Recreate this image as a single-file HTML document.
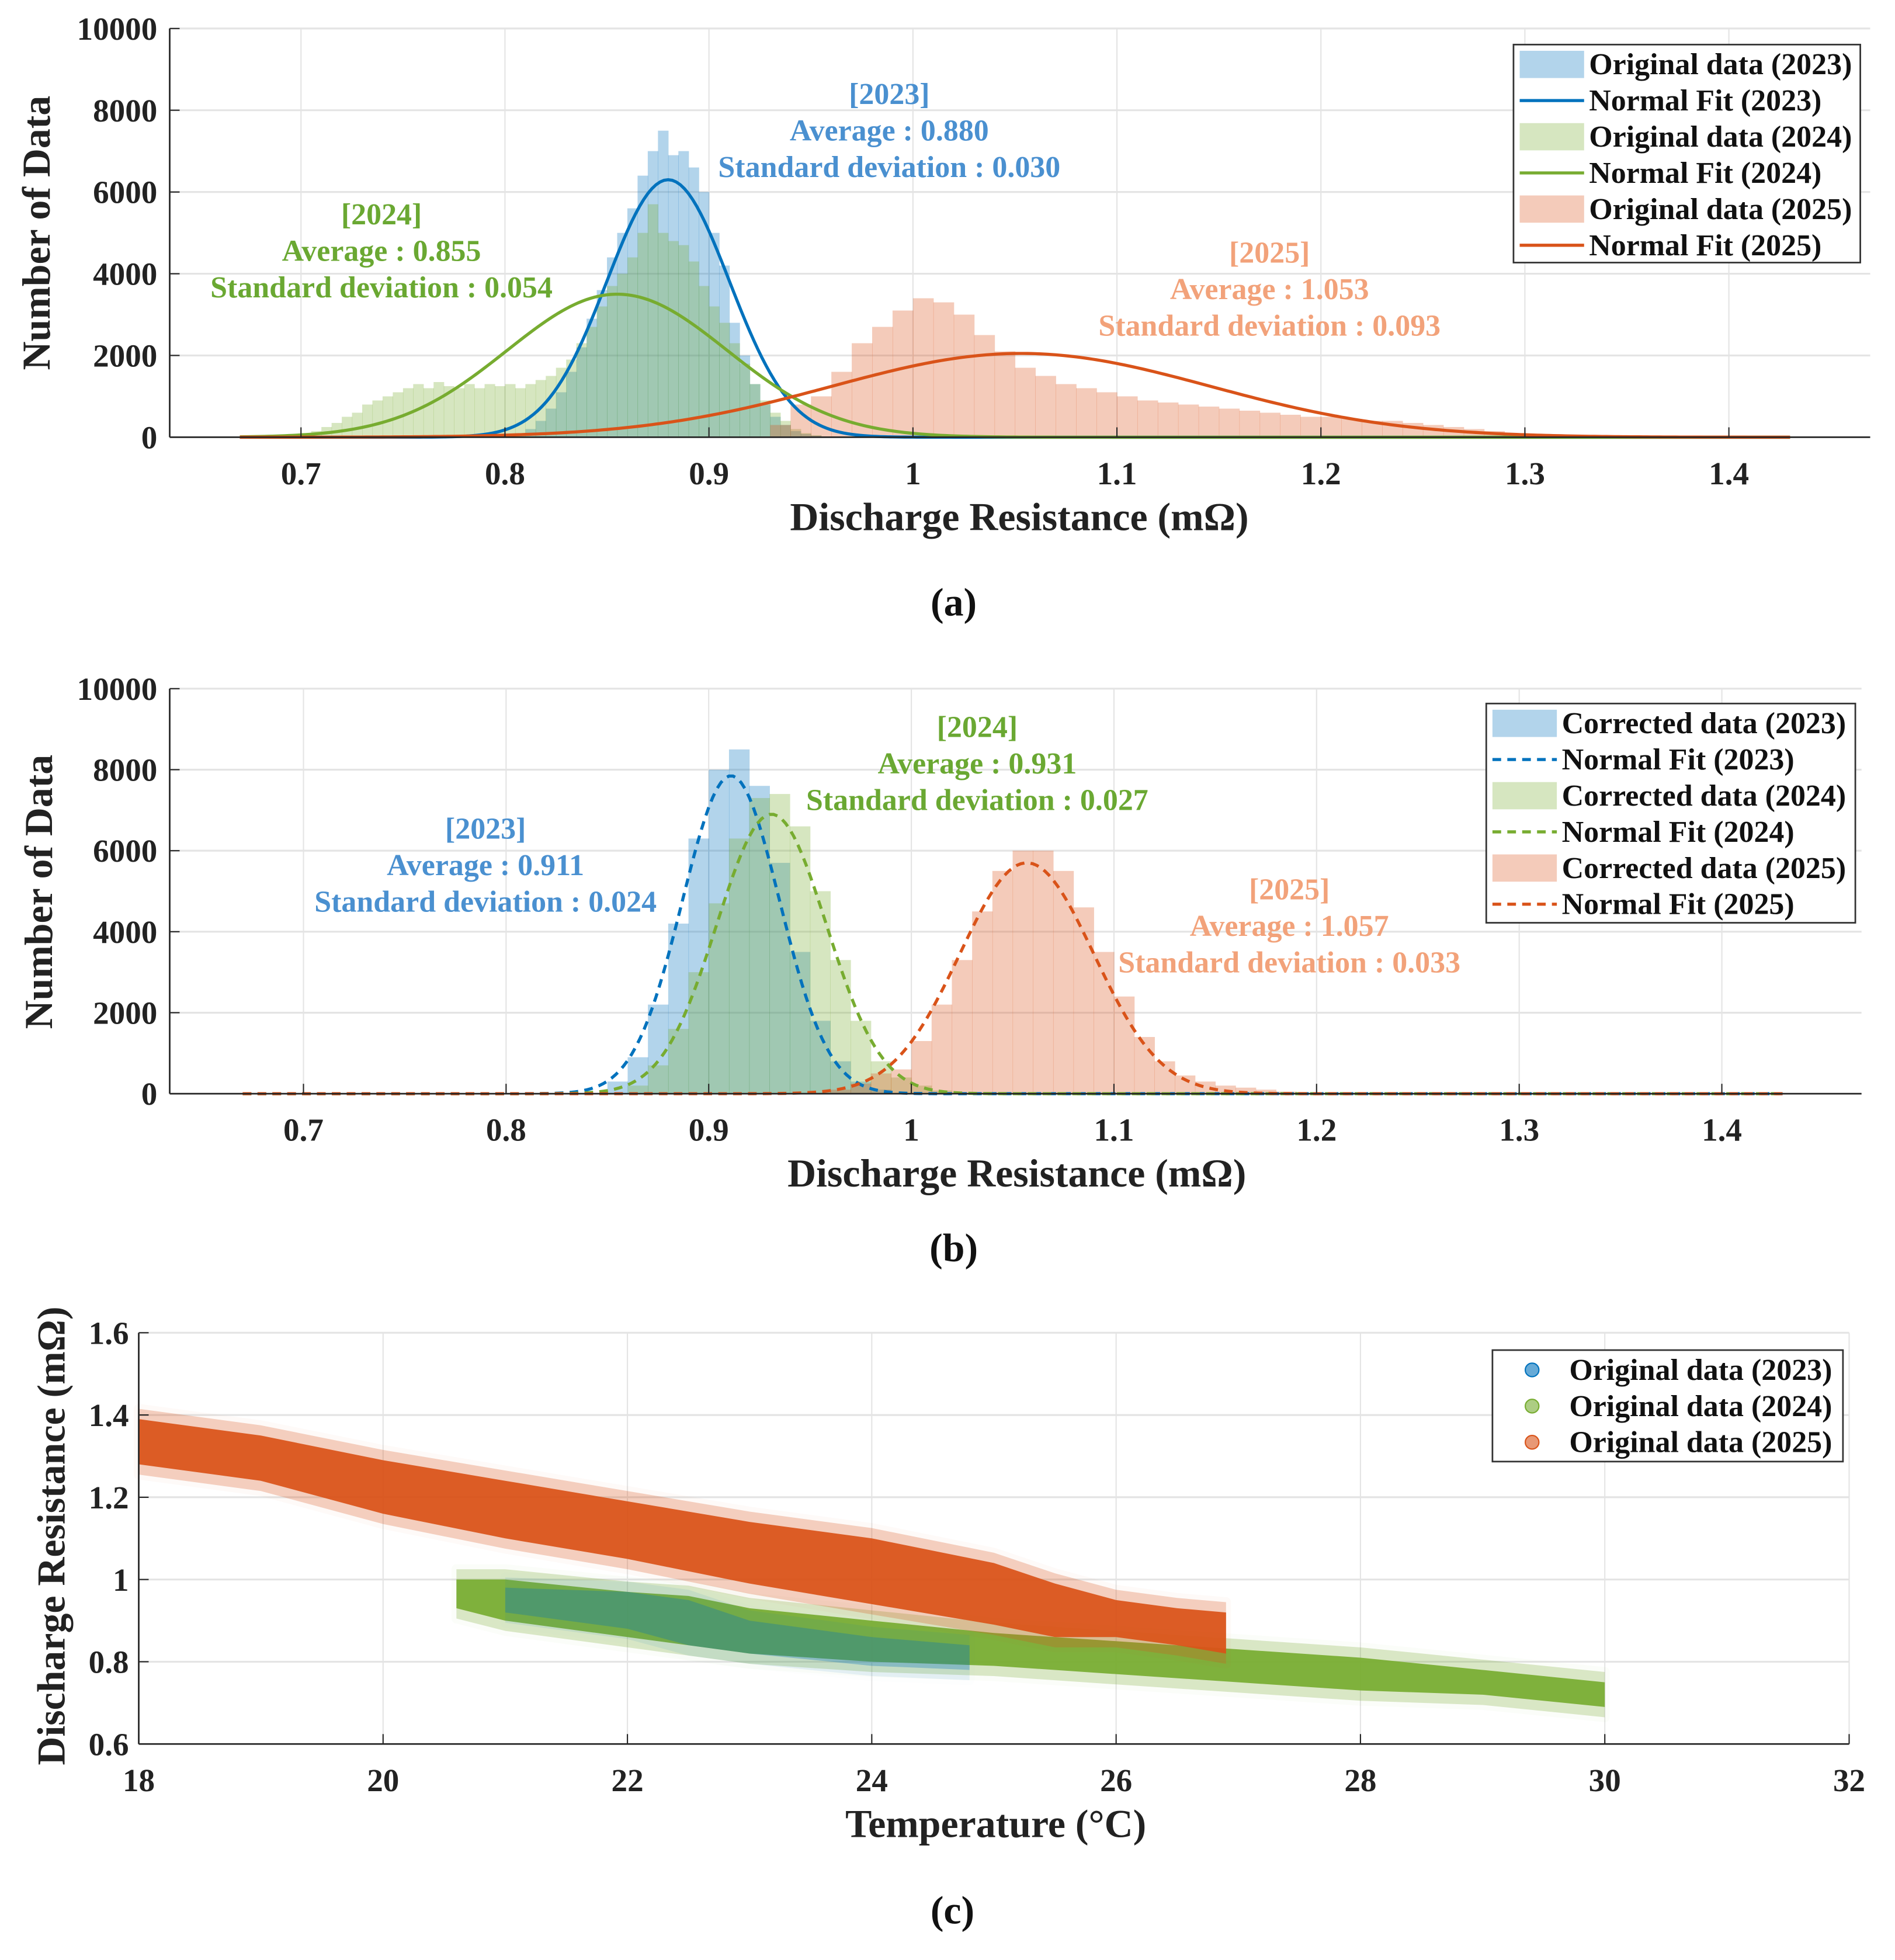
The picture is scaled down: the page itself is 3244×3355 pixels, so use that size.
<!DOCTYPE html>
<html><head><meta charset="utf-8">
<style>
html,body{margin:0;padding:0;background:#fff;}
svg{display:block;}
text{font-family:"Liberation Serif",serif;font-weight:bold;}
</style></head>
<body>
<svg id="fig" width="3244" height="3355" viewBox="0 0 1530 1582.4" xmlns="http://www.w3.org/2000/svg">
<rect width="1530" height="1582.4" fill="#fff"/>
<g id="pa"></g>
<g id="pb"></g>
<g id="pc"></g>
</svg>
<script>
// ---------- Panel (a) data ----------
const a2023Start = 0.80;
const a2023Counts = [0,100,200,400,700,1100,1600,2200,2900,3600,4400,5000,5600,6400,7000,7500,6900,7000,6600,6000,5000,4200,2800,2000,1300,800,500,300,150,80,40];
const a2024Start = 0.70;
const a2024Counts = [100,150,250,350,500,600,800,900,1000,1100,1200,1300,1200,1350,1250,1200,1300,1200,1300,1250,1300,1200,1300,1400,1500,1700,1900,2300,2700,3200,3700,4000,4400,5000,5700,5000,4800,4700,4300,3700,3200,2800,2300,1800,1300,900,600,400,200,100,50];
const a2025Start = 0.93;
const a2025Counts = [300,800,1000,1600,2300,2700,3100,3400,3300,3000,2500,2100,1700,1500,1300,1200,1100,1000,900,850,800,750,700,650,600,550,500,500,450,400,400,350,300,250,200,150,100,80,50,30,15,5];
const aMeans = [0.880, 0.855, 1.053];
const aSds = [0.030, 0.054, 0.093];
const aPeaks = [6300, 3500, 2050];
// ---------- Panel (b) data ----------
const b2023Start = 0.85;
const b2023Counts = [300,900,2200,4200,6300,8000,8500,7600,5700,3500,1800,800,300,100];
const b2024Start = 0.86;
const b2024Counts = [200,700,1600,3000,4700,6300,7300,7400,6600,5000,3300,1800,800,400,200,80];
const b2025Start = 0.96;
const b2025Counts = [100,250,500,600,1300,2200,3300,4500,5500,6000,6000,5500,4600,3500,2400,1400,800,450,300,200,150,100,50,20];
const bMeans = [0.911, 0.931, 1.057];
const bSds = [0.024, 0.027, 0.033];
const bPeaks = [7850, 6900, 5700];
// ---------- Panel (c) data (scatter band envelopes) ----------
const c2023T = [21,22,22.5,23,24,24.8];
const c2023Hi = [0.98,0.97,0.95,0.90,0.86,0.84];
const c2023Lo = [0.92,0.88,0.84,0.82,0.79,0.78];
const c2024T = [20.6,21,22,22.5,23,24,25,26,27,28,29,30];
const c2024Hi = [1.0,1.0,0.97,0.96,0.93,0.90,0.87,0.85,0.83,0.81,0.78,0.75];
const c2024Lo = [0.93,0.90,0.86,0.84,0.82,0.80,0.79,0.77,0.75,0.73,0.72,0.69];
const c2025T = [18,19,20,21,22,23,24,25,25.5,26,26.5,26.9];
const c2025Hi = [1.39,1.35,1.29,1.24,1.19,1.14,1.10,1.04,0.99,0.95,0.93,0.92];
const c2025Lo = [1.28,1.24,1.16,1.10,1.05,0.99,0.94,0.89,0.86,0.86,0.84,0.82];

const NS = "http://www.w3.org/2000/svg";
function mk(parent, tag, attrs, txt){
  const e = document.createElementNS(NS, tag);
  for (const k in attrs) e.setAttribute(k, attrs[k]);
  if (txt !== undefined) e.textContent = txt;
  parent.appendChild(e);
  return e;
}
const C = {blue:"#0072BD", green:"#77AC30", orange:"#D95319",
  fb:"rgba(0,114,189,0.3)", fg:"rgba(119,172,48,0.3)", fo:"rgba(217,83,25,0.3)",
  tb:"#4a90d0", tg:"#6aa832", to:"#f2a27a"};
const TICK=26, ANN=24.5, LEG=24.5, TITLE=32;

function histPanel(g, cfg){
  const {L,R,T,B,x0,xPer,yMax} = cfg;
  const sx = v => x0 + (v-0.7)*xPer*100;
  const sy = v => B - v/yMax*(B-T);
  for (let i=0;i<8;i++){
    const t=0.7+i*0.1;
    const ln = mk(g,"line",{x1:sx(t),x2:sx(t),y1:T,y2:B,stroke:"#e4e4e4","stroke-width":1});
    
    
  }
  for (let v=2000; v<=10000; v+=2000){
    const ln = mk(g,"line",{x1:L,x2:R,y1:sy(v),y2:sy(v),stroke:"#e4e4e4","stroke-width":1.5});
    
    
  }
  const hs = [[cfg.h[0],cfg.s[0],cfg.w[0],C.fb,'hist-2023'],[cfg.h[1],cfg.s[1],cfg.w[1],C.fg,'hist-2024'],[cfg.h[2],cfg.s[2],cfg.w[2],C.fo,'hist-2025']];
  hs.forEach(([counts,start,w,fill,name])=>{
    const hg = mk(g,"g",{});
    
    
    counts.forEach((c,i)=>{
      const xa = sx(start+i*w), xb = sx(start+(i+1)*w);
      const r = mk(hg,"rect",{x:xa,y:sy(c),width:xb-xa+0.3,height:B-sy(c),fill:fill});
      
      
    });
  });
  const cols=[C.blue,C.green,C.orange], names=['fit-2023','fit-2024','fit-2025'];
  for (let k=0;k<3;k++){
    let d="";
    for (let x=0.67; x<=1.4301; x+=0.002){
      const y = cfg.peaks[k]*Math.exp(-0.5*Math.pow((x-cfg.means[k])/cfg.sds[k],2));
      d += (d?"L":"M")+sx(x).toFixed(2)+","+sy(y).toFixed(2);
    }
    const p = mk(g,"path",{d:d,fill:"none",stroke:cols[k],"stroke-width":2.5});
    if (cfg.dash) p.setAttribute("stroke-dasharray","7,5");
    
    
  }
  mk(g,"line",{x1:L,x2:L,y1:T,y2:B,stroke:"#262626","stroke-width":1.3});
  mk(g,"line",{x1:L,x2:R,y1:B,y2:B,stroke:"#262626","stroke-width":1.3});
  const lbls=["0.7","0.8","0.9","1","1.1","1.2","1.3","1.4"];
  for (let i=0;i<8;i++){
    const t=0.7+i*0.1;
    mk(g,"line",{x1:sx(t),x2:sx(t),y1:B,y2:B-8,stroke:"#262626","stroke-width":1});
    const tx = mk(g,"text",{x:sx(t),y:B+38,"font-size":TICK,"text-anchor":"middle",fill:"#222"},lbls[i]);
    
    
  }
  for (let v=0; v<=10000; v+=2000){
    mk(g,"line",{x1:L,x2:L+8,y1:sy(v),y2:sy(v),stroke:"#262626","stroke-width":1});
    const tx = mk(g,"text",{x:L-10,y:sy(v)+9,"font-size":TICK,"text-anchor":"end",fill:"#222"},String(v));
    
    
  }
}

function annot(g, x, y, lines, col, name){
  const tg = mk(g,"g",{});
  
  
  lines.forEach((s,i)=>mk(tg,"text",{x:x,y:y+i*29.5,"font-size":ANN,"text-anchor":"middle",fill:col},s));
}
function legend(g, x, y, w, h, items, name){
  const lg = mk(g,"g",{});
  
  
  mk(lg,"rect",{x:x,y:y,width:w,height:h,fill:"#fff",stroke:"#333","stroke-width":1.3});
  items.forEach((it,i)=>{
    const cy = y+16+i*29.2;
    if (it.type==="patch") mk(lg,"rect",{x:x+5,y:cy-11,width:52,height:22,fill:it.c});
    else if (it.type==="line"){ const l=mk(lg,"line",{x1:x+5,x2:x+57,y1:cy,y2:cy,stroke:it.c,"stroke-width":2.5}); if(it.dash) l.setAttribute("stroke-dasharray","7,5"); }
    else mk(lg,"circle",{cx:x+32,cy:cy,r:5.5,fill:it.c,stroke:it.s,"stroke-width":1});
    const t = mk(lg,"text",{x:x+it.tx,y:cy+8,"font-size":LEG,fill:"#111"},it.t);
    
    
  });
}

// ---------- Panel a ----------
const pa = document.getElementById('pa');
histPanel(pa,{L:137,R:1510,T:23,B:353,x0:243,xPer:16.47,yMax:10000,
  h:[a2023Counts,a2024Counts,a2025Counts],s:[a2023Start,a2024Start,a2025Start],w:[0.005,0.005,0.01],
  means:aMeans,sds:aSds,peaks:aPeaks,dash:false});
annot(pa,718,84,["[2023]","Average : 0.880","Standard deviation : 0.030"],C.tb,'annotation-2023');
annot(pa,308,181,["[2024]","Average : 0.855","Standard deviation : 0.054"],C.tg,'annotation-2024');
annot(pa,1025,212,["[2025]","Average : 1.053","Standard deviation : 0.093"],C.to,'annotation-2025');
legend(pa,1222,36,280,176,[
 {type:"patch",c:C.fb,t:"Original data (2023)",tx:61},{type:"line",c:C.blue,t:"Normal Fit (2023)",tx:61},
 {type:"patch",c:C.fg,t:"Original data (2024)",tx:61},{type:"line",c:C.green,t:"Normal Fit (2024)",tx:61},
 {type:"patch",c:C.fo,t:"Original data (2025)",tx:61},{type:"line",c:C.orange,t:"Normal Fit (2025)",tx:61}],'legend-a');
mk(pa,"text",{x:823,y:428,"font-size":TITLE,"text-anchor":"middle",fill:"#222"},"Discharge Resistance (mΩ)");
mk(pa,"text",{x:0,y:0,"font-size":TITLE,"text-anchor":"middle",fill:"#222",transform:"translate(40,188) rotate(-90)"},"Number of Data");
mk(pa,"text",{x:770,y:497,"font-size":32,"text-anchor":"middle",fill:"#111","font-weight":"normal"},"(a)");

// ---------- Panel b ----------
const pb = document.getElementById('pb');
histPanel(pb,{L:137,R:1503,T:556,B:883,x0:245,xPer:16.36,yMax:10000,
  h:[b2023Counts,b2024Counts,b2025Counts],s:[b2023Start,b2024Start,b2025Start],w:[0.01,0.01,0.01],
  means:bMeans,sds:bSds,peaks:bPeaks,dash:true});
annot(pb,789,595,["[2024]","Average : 0.931","Standard deviation : 0.027"],C.tg,'annotation-2024');
annot(pb,392,677,["[2023]","Average : 0.911","Standard deviation : 0.024"],C.tb,'annotation-2023');
annot(pb,1041,726,["[2025]","Average : 1.057","Standard deviation : 0.033"],C.to,'annotation-2025');
legend(pb,1200,568,298,177,[
 {type:"patch",c:C.fb,t:"Corrected data (2023)",tx:61},{type:"line",c:C.blue,dash:true,t:"Normal Fit (2023)",tx:61},
 {type:"patch",c:C.fg,t:"Corrected data (2024)",tx:61},{type:"line",c:C.green,dash:true,t:"Normal Fit (2024)",tx:61},
 {type:"patch",c:C.fo,t:"Corrected data (2025)",tx:61},{type:"line",c:C.orange,dash:true,t:"Normal Fit (2025)",tx:61}],'legend-b');
mk(pb,"text",{x:821,y:958,"font-size":TITLE,"text-anchor":"middle",fill:"#222"},"Discharge Resistance (mΩ)");
mk(pb,"text",{x:0,y:0,"font-size":TITLE,"text-anchor":"middle",fill:"#222",transform:"translate(42,720) rotate(-90)"},"Number of Data");
mk(pb,"text",{x:770,y:1018,"font-size":32,"text-anchor":"middle",fill:"#111","font-weight":"normal"},"(b)");

// ---------- Panel c ----------
const pc = document.getElementById('pc');
(function(){
  const L=112,R=1493,T=1076,B=1408;
  const sx = t => L + (t-18)/14*(R-L);
  const sy = v => B - (v-0.6)/1.0*(B-T);
  for (let t=20;t<=32;t+=2){ const l=mk(pc,"line",{x1:sx(t),x2:sx(t),y1:T,y2:B,stroke:"#e4e4e4","stroke-width":1});  }
  for (let i=1;i<=5;i++){ const v=0.6+i*0.2; const l=mk(pc,"line",{x1:L,x2:R,y1:sy(v),y2:sy(v),stroke:"#e4e4e4","stroke-width":1.5});  }
  function band(T_,Hi,Lo,col,name,op){
    const g = mk(pc,"g",{});
    
    
    let d="";
    T_.forEach((t,i)=>{ d += (i?"L":"M")+sx(t).toFixed(1)+","+sy(Hi[i]+0.025).toFixed(1); });
    for (let i=T_.length-1;i>=0;i--) d += "L"+sx(T_[i]).toFixed(1)+","+sy(Lo[i]-0.025).toFixed(1);
    mk(g,"path",{d:d+"Z",fill:col,opacity:op*0.3,stroke:col,"stroke-width":8,"stroke-opacity":0.1,"stroke-linejoin":"round"});
    d="";
    T_.forEach((t,i)=>{ d += (i?"L":"M")+sx(t).toFixed(1)+","+sy(Hi[i]).toFixed(1); });
    for (let i=T_.length-1;i>=0;i--) d += "L"+sx(T_[i]).toFixed(1)+","+sy(Lo[i]).toFixed(1);
    mk(g,"path",{d:d+"Z",fill:col,opacity:op,"stroke-linejoin":"round"});
  }
  band(c2024T,c2024Hi,c2024Lo,C.green,'scatter-2024',0.92);
  band(c2023T,c2023Hi,c2023Lo,C.blue,'scatter-2023',0.3);
  band(c2025T,c2025Hi,c2025Lo,C.orange,'scatter-2025',0.93);
  mk(pc,"line",{x1:L,x2:L,y1:T,y2:B,stroke:"#262626","stroke-width":1.3});
  mk(pc,"line",{x1:L,x2:R,y1:B,y2:B,stroke:"#262626","stroke-width":1.3});
  for (let t=18;t<=32;t+=2){
    mk(pc,"line",{x1:sx(t),x2:sx(t),y1:B,y2:B-8,stroke:"#262626","stroke-width":1});
    const tx=mk(pc,"text",{x:sx(t),y:B+38,"font-size":TICK,"text-anchor":"middle",fill:"#222"},String(t));
     
  }
  ["0.6","0.8","1","1.2","1.4","1.6"].forEach((s,i)=>{
    const v=0.6+i*0.2;
    mk(pc,"line",{x1:L,x2:L+8,y1:sy(v),y2:sy(v),stroke:"#262626","stroke-width":1});
    const tx=mk(pc,"text",{x:L-8,y:sy(v)+9,"font-size":TICK,"text-anchor":"end",fill:"#222"},s);
     
  });
})();
legend(pc,1205,1090,283,90,[
 {type:"dot",c:"rgba(0,114,189,0.6)",s:C.blue,t:"Original data (2023)",tx:62},
 {type:"dot",c:"rgba(119,172,48,0.6)",s:C.green,t:"Original data (2024)",tx:62},
 {type:"dot",c:"rgba(217,83,25,0.6)",s:C.orange,t:"Original data (2025)",tx:62}],'legend-c');
mk(pc,"text",{x:804,y:1483,"font-size":TITLE,"text-anchor":"middle",fill:"#222"},"Temperature (°C)");
mk(pc,"text",{x:0,y:0,"font-size":TITLE,"text-anchor":"middle",fill:"#222",transform:"translate(52,1240) rotate(-90)"},"Discharge Resistance (mΩ)");
mk(pc,"text",{x:769,y:1553,"font-size":32,"text-anchor":"middle",fill:"#111","font-weight":"normal"},"(c)");
</script>
</body></html>
